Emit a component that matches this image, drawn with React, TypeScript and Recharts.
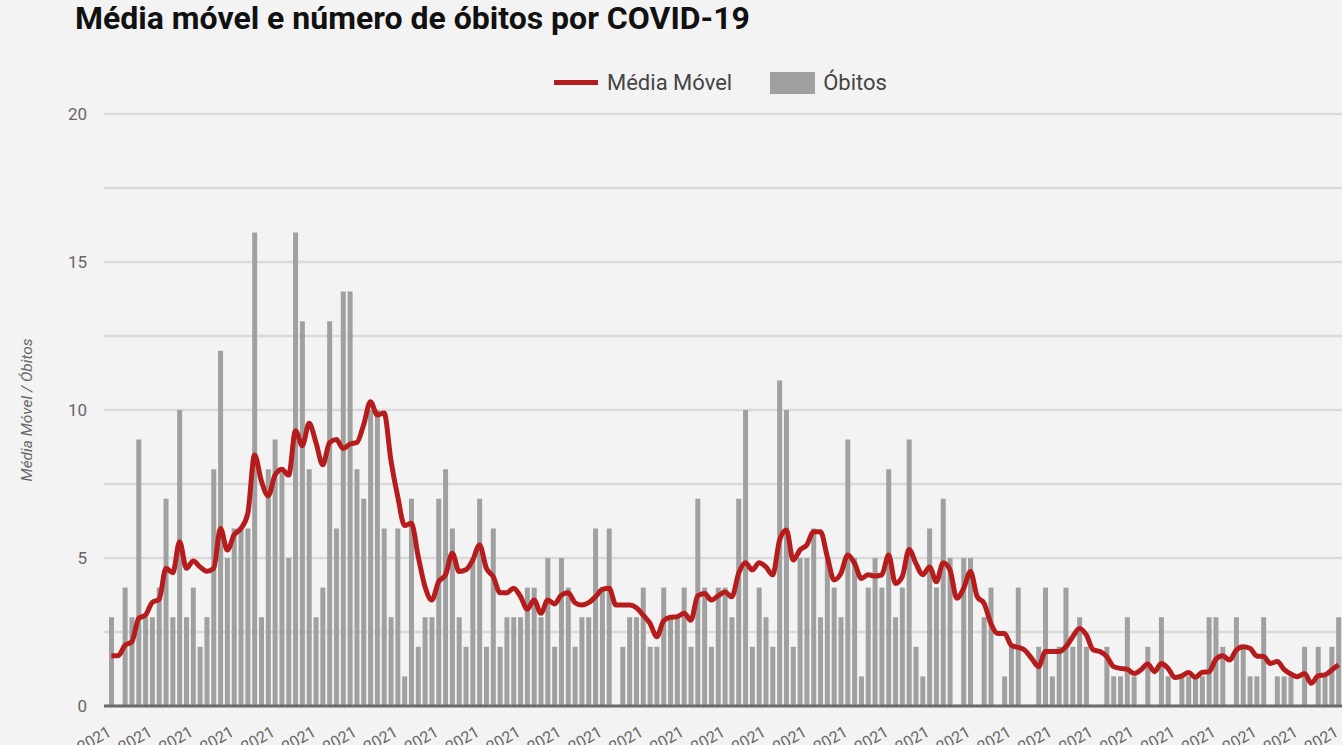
import React from 'react';
import { ComposedChart, Bar, Line, XAxis, YAxis, CartesianGrid, Label } from 'recharts';

// óbitos diários (um valor por dia)
const obitos = [
  3, 0, 4, 3, 9, 3, 3, 4, 7, 3, 10, 3, 4, 2, 3, 8, 12, 5, 6, 6,
  6, 16, 3, 8, 9, 8, 5, 16, 13, 8, 3, 4, 13, 6, 14, 14, 8, 7, 10, 10,
  6, 3, 6, 1, 7, 2, 3, 3, 7, 8, 6, 3, 2, 5, 7, 2, 6, 2, 3, 3,
  3, 4, 4, 3, 5, 2, 5, 4, 2, 3, 3, 6, 4, 6, 0, 2, 3, 3, 4, 2,
  2, 4, 3, 3, 4, 2, 7, 4, 2, 4, 4, 3, 7, 10, 2, 4, 3, 2, 11, 10,
  2, 5, 5, 6, 3, 5, 4, 3, 9, 5, 1, 4, 5, 4, 8, 3, 4, 9, 2, 1,
  6, 4, 7, 5, 0, 5, 5, 0, 3, 4, 0, 1, 2, 4, 0, 0, 2, 4, 1, 2,
  4, 2, 3, 2, 0, 0, 2, 1, 1, 3, 1, 0, 2, 0, 3, 1, 0, 1, 1, 1,
  1, 3, 3, 2, 0, 3, 2, 1, 1, 3, 0, 1, 1, 1, 0, 2, 0, 2, 1, 2,
  3,
];

const mediaMovel = [
  1.7, 1.7, 2.05, 2.17, 2.96, 3.07, 3.5, 3.6, 4.65, 4.5, 5.55, 4.65, 4.9, 4.7, 4.55, 4.65, 6.0, 5.27, 5.78, 6.0,
  6.5, 8.48, 7.6, 7.1, 7.8, 8.0, 7.8, 9.3, 8.8, 9.55, 8.9, 8.15, 8.9, 9.0, 8.7, 8.85, 8.9, 9.5, 10.28, 9.83,
  9.9, 8.3, 7.07, 6.1, 6.17, 5.05, 4.03, 3.58, 4.2, 4.43, 5.16, 4.54, 4.6, 4.93, 5.44, 4.65, 4.37, 3.83, 3.83, 3.98,
  3.7, 3.27, 3.58, 3.13, 3.58, 3.45, 3.75, 3.83, 3.49, 3.41, 3.49, 3.69, 3.94, 3.98, 3.41, 3.41, 3.41, 3.32, 3.07, 2.79,
  2.34, 2.88, 3.0, 3.02, 3.13, 2.9, 3.72, 3.8, 3.58, 3.72, 3.85, 3.69, 4.48, 4.84, 4.6, 4.84, 4.7, 4.43, 5.6, 5.95,
  4.93, 5.27, 5.44, 5.89, 5.89, 5.05, 4.26, 4.48, 5.1, 4.82, 4.31, 4.43, 4.39, 4.43, 5.1, 4.14, 4.37, 5.29, 4.82, 4.43,
  4.7, 4.2, 4.84, 4.6, 3.64, 3.97, 4.54, 3.69, 3.47, 2.79, 2.45, 2.45, 2.05, 1.98, 1.88, 1.6, 1.33, 1.84, 1.84, 1.84,
  2.0, 2.34, 2.62, 2.4, 1.9, 1.84, 1.67, 1.33, 1.27, 1.24, 1.1, 1.22, 1.42, 1.16, 1.44, 1.27, 0.96, 1.02, 1.13, 0.97,
  1.14, 1.16, 1.58, 1.7, 1.55, 1.89, 2.0, 1.95, 1.69, 1.67, 1.44, 1.5, 1.24, 1.08, 0.99, 1.1, 0.77, 1.02, 1.05, 1.22,
  1.39,
];

const anoLabel = '2021';
const yTicks = [0, 2.5, 5, 7.5, 10, 12.5, 15, 17.5, 20];

const data = obitos.map((v, i) => ({ dia: i, obitos: v, media: mediaMovel[i] }));

const FONT = 'Roboto, "Noto Sans", sans-serif';

const XTick = (props: any) => {
  const { x, y } = props;
  const tx = x + 1;
  const ty = y + 27;
  return (
    <text
      x={tx}
      y={ty}
      transform={`rotate(-30, ${tx}, ${ty})`}
      textAnchor="end"
      fill="#666"
      fontSize={16}
      fontFamily={FONT}
    >
      {anoLabel}
    </text>
  );
};

const App: React.FC = () => {
  return (
    <div
      style={{
        position: 'fixed',
        left: 0,
        top: 0,
        width: 1342,
        height: 745,
        overflow: 'hidden',
        background: '#f3f3f3',
        fontFamily: FONT,
      }}
    >
      <div style={{ position: 'absolute', left: 75, top: -1, fontSize: 32, fontWeight: 700, color: '#111', whiteSpace: 'nowrap' }}>
        Média móvel e número de óbitos por COVID-19
      </div>

      {/* legenda */}
      <div style={{ position: 'absolute', left: 554, top: 70, display: 'flex', alignItems: 'center', fontSize: 22, color: '#444', whiteSpace: 'nowrap' }}>
        <span style={{ display: 'inline-block', width: 44, height: 5, background: '#b71c1c', marginRight: 9 }} />
        <span>Média Móvel</span>
        <span style={{ display: 'inline-block', width: 45, height: 22, background: '#a0a0a0', marginLeft: 38, marginRight: 8 }} />
        <span>Óbitos</span>
      </div>

      <ComposedChart width={1342} height={745} data={data} margin={{ top: 114, right: 0, bottom: 0, left: 0 }} barCategoryGap={0}>
        <CartesianGrid horizontal vertical={false} stroke="#d9d9d9" strokeWidth={2.5} />
        <XAxis
          dataKey="dia"
          interval={5}
          height={39}
          tick={<XTick />}
          tickLine={false}
          tickSize={0}
          padding={{ left: 4, right: 0 }}
          axisLine={{ stroke: '#6b6b6b', strokeWidth: 3 }}
        />
        <YAxis
          domain={[0, 20]}
          ticks={yTicks}
          width={104}
          axisLine={false}
          tickLine={false}
          tickSize={0}
          tickMargin={17}
          tickFormatter={(v: number) => (v % 5 === 0 ? String(v) : '')}
          tick={{ fill: '#666', fontSize: 17, fontFamily: FONT }}
        >
          <Label
            content={({ viewBox }: any) => {
              const cy = viewBox.y + viewBox.height / 2;
              return (
                <text
                  x={32}
                  y={cy}
                  transform={`rotate(-90, 32, ${cy})`}
                  textAnchor="middle"
                  fill="#666"
                  fontSize={15.5}
                  fontStyle="italic"
                  fontFamily={FONT}
                >
                  Média Móvel / Óbitos
                </text>
              );
            }}
          />
        </YAxis>
        <Bar dataKey="obitos" fill="#a0a0a0" barSize={5} isAnimationActive={false} />
        <Line
          dataKey="media"
          type="monotone"
          stroke="#b71c1c"
          strokeWidth={5}
          dot={false}
          activeDot={false}
          isAnimationActive={false}
        />
      </ComposedChart>
    </div>
  );
};

export default App;
